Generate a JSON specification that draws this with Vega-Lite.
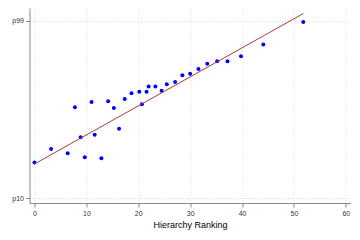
{
  "$schema": "https://vega.github.io/schema/vega-lite/v6.json",
  "autosize": {"type": "none"},
  "padding": {"left": 29.5, "top": 8, "right": 9.5, "bottom": 37},
  "width": 321,
  "height": 195,
  "background": "white",
  "config": {"view": {"stroke": null}, "font": "DejaVu Sans"},
  "datasets": {
    "points": [
      {"rank": 0, "value": 27.9},
      {"rank": 3.2, "value": 34.6},
      {"rank": 6.4, "value": 32.5},
      {"rank": 7.8, "value": 55.6},
      {"rank": 8.9, "value": 40.5},
      {"rank": 9.7, "value": 30.5},
      {"rank": 11.0, "value": 58.3},
      {"rank": 11.6, "value": 41.8},
      {"rank": 12.9, "value": 30.0},
      {"rank": 14.2, "value": 58.6},
      {"rank": 15.3, "value": 55.2},
      {"rank": 16.3, "value": 44.8},
      {"rank": 17.4, "value": 59.8},
      {"rank": 18.7, "value": 62.6},
      {"rank": 20.2, "value": 63.4},
      {"rank": 20.7, "value": 57.1},
      {"rank": 21.6, "value": 63.4},
      {"rank": 22.0, "value": 66.0},
      {"rank": 23.3, "value": 66.0},
      {"rank": 24.5, "value": 63.9},
      {"rank": 25.5, "value": 67.2},
      {"rank": 27.1, "value": 68.3},
      {"rank": 28.5, "value": 71.7},
      {"rank": 30.0, "value": 72.5},
      {"rank": 31.6, "value": 74.9},
      {"rank": 33.3, "value": 77.5},
      {"rank": 35.2, "value": 78.7},
      {"rank": 37.2, "value": 78.7},
      {"rank": 39.8, "value": 81.2},
      {"rank": 44.1, "value": 87.1},
      {"rank": 51.8, "value": 98.5}
    ],
    "fit": [
      {"rank": 0, "value": 27.1},
      {"rank": 51.8, "value": 102.7}
    ]
  },
  "layer": [
    {
      "data": {"name": "points"},
      "mark": {"type": "point", "filled": true, "color": "#0000ff", "size": 16, "opacity": 1},
      "encoding": {
        "x": {
          "field": "rank", "type": "quantitative",
          "scale": {"domain": [-0.96, 60.9], "nice": false, "zero": false},
          "axis": {
            "values": [0, 10, 20, 30, 40, 50, 60],
            "title": "Hierarchy Ranking",
            "titleFont": "Liberation Sans", "titleFontSize": 9, "titleFontWeight": "normal", "titleColor": "#000000", "titlePadding": 4,
            "labelFont": "Liberation Sans", "labelFontSize": 7, "labelColor": "#333333", "labelPadding": 2,
            "domainColor": "#888888", "domainWidth": 1,
            "tickColor": "#888888", "tickSize": 4,
            "grid": true, "gridColor": "#d8d8d8", "gridDash": [1, 2], "gridWidth": 1
          }
        },
        "y": {
          "field": "value", "type": "quantitative",
          "scale": {"domain": [7.5, 105.5], "nice": false, "zero": false},
          "axis": {
            "values": [10, 99],
            "labelExpr": "datum.value == 10 ? 'p10' : 'p99'",
            "title": null,
            "labelFont": "Liberation Sans", "labelFontSize": 7, "labelColor": "#333333", "labelPadding": 2,
            "domainColor": "#888888", "domainWidth": 1,
            "tickColor": "#888888", "tickSize": 4,
            "grid": true, "gridColor": "#d8d8d8", "gridDash": [1, 2], "gridWidth": 1
          }
        }
      }
    },
    {
      "data": {"name": "fit"},
      "mark": {"type": "line", "color": "#a83a3a", "strokeWidth": 1},
      "encoding": {
        "x": {"field": "rank", "type": "quantitative"},
        "y": {"field": "value", "type": "quantitative"}
      }
    }
  ]
}
